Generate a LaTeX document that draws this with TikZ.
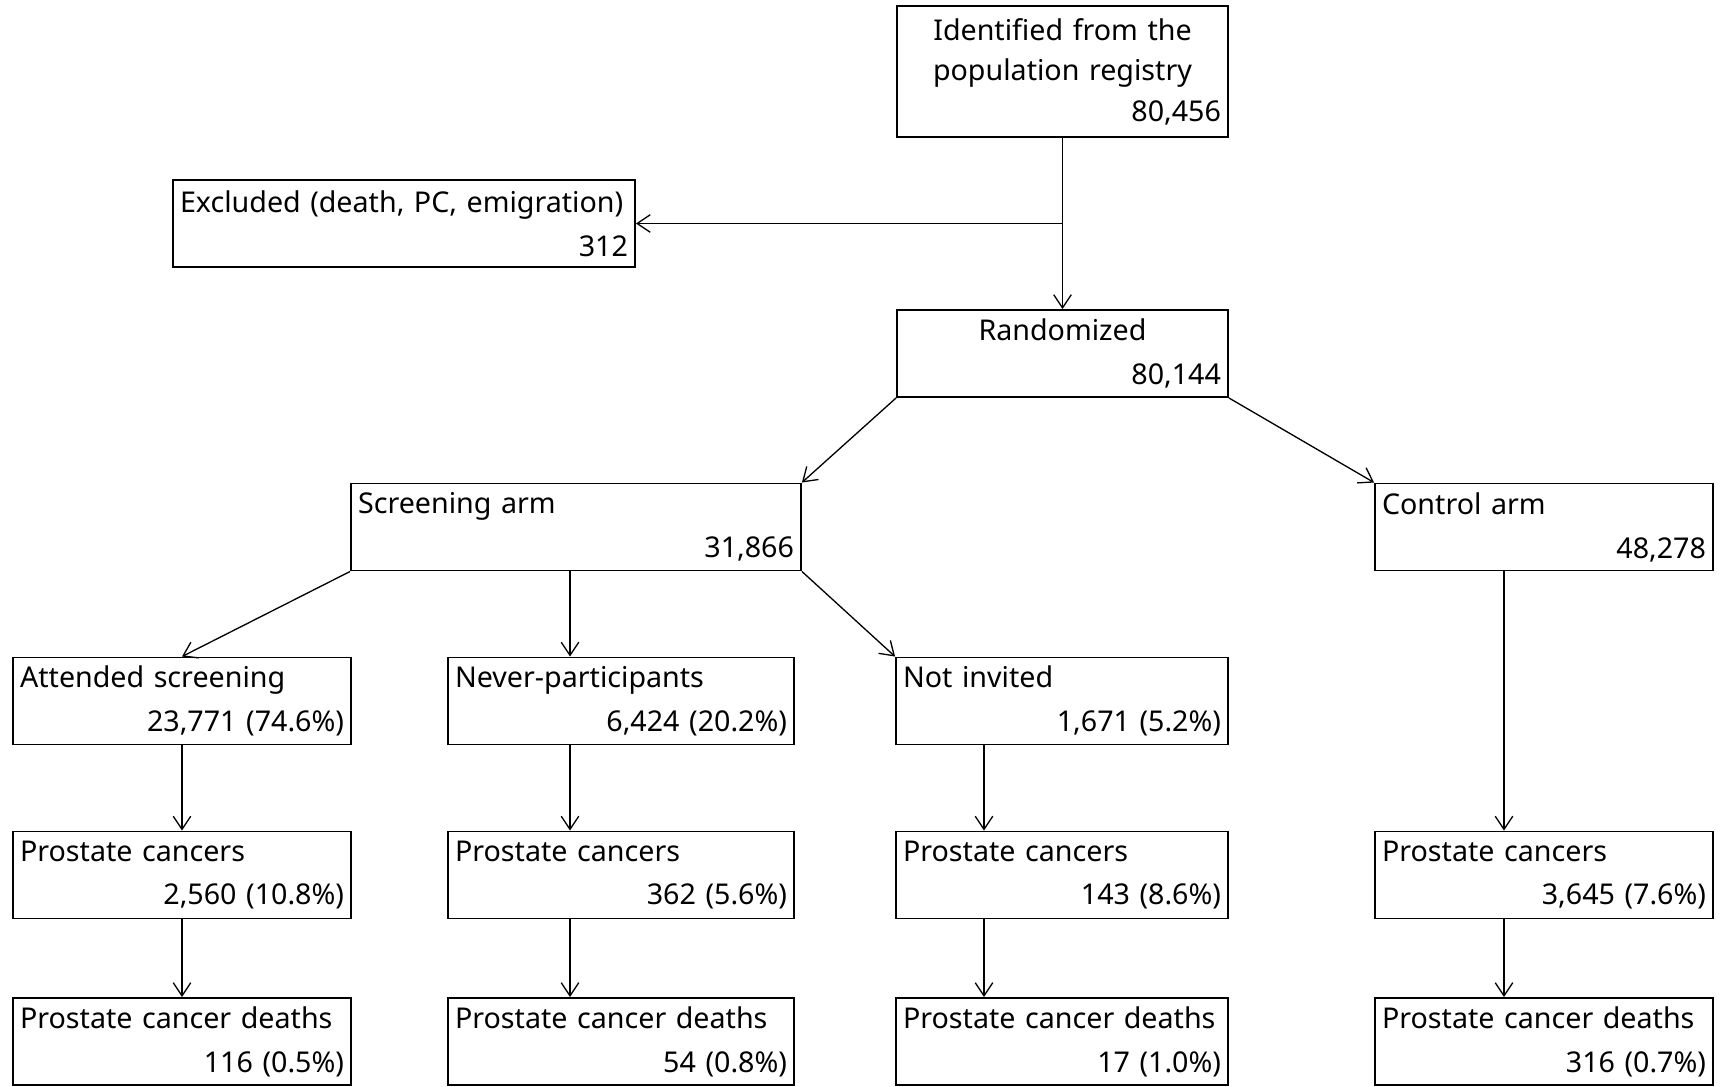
\documentclass[tikz,border=0pt]{standalone}
\usepackage{fontspec}
\setmainfont[WordSpace=1.5]{Noto Sans}
\usepackage{tikz}
\usetikzlibrary{arrows.meta}

\newcommand{\cnt}[1]{\\\leavevmode\hbox to\linewidth{\hfil #1}}
\newcommand{\ctr}[1]{\leavevmode\hbox to\linewidth{\hfil #1\hfil}}

\tikzset{
  flowbox/.style={draw, line width=1.1pt, rectangle, inner xsep=0.14cm, inner ysep=0pt,
    minimum height=1.74cm, text width=#1, align=left,
    font=\fontsize{16.3}{25}\selectfont},
  flowarrow/.style={->, line width=0.75pt}
}

\begin{document}
\begin{tikzpicture}[x=0.02cm, y=-0.02cm, >={Straight Barb[length=7.5pt,width=10pt]}]
            \useasboundingbox (0,0) rectangle (1721,1086);
            % Registry and randomization
            \node[flowbox=6.34cm, minimum height=2.62cm, font=\fontsize{16.3}{23}\selectfont] (reg) at (1062.5,71.5)
                {\ctr{Identified from the}\\\ctr{population registry}\cnt{80,456}};
            \node[flowbox=8.96cm] (excl) at (404,223.5) {Excluded (death, PC, emigration)\cnt{312}};
            \node[flowbox=6.34cm] (rand) at (1062.5,353.5) {\ctr{Randomized}\cnt{80,144}};
            % Arms
            \node[flowbox=8.72cm] (screen) at (576,527) {Screening arm\cnt{31,866}};
            \node[flowbox=6.48cm] (ctrl) at (1544,527) {Control arm\cnt{48,278}};
            % Screening arm groups
            \node[flowbox=6.48cm] (att) at (182,701) {Attended screening\cnt{23,771 (74.6\%)}};
            \node[flowbox=6.64cm] (never) at (621,701) {Never-participants\cnt{6,424 (20.2\%)}};
            \node[flowbox=6.36cm] (noinv) at (1062,701) {Not invited\cnt{1,671 (5.2\%)}};
            % Prostate cancers
            \node[flowbox=6.48cm] (pcA) at (182,875) {Prostate cancers\cnt{2,560 (10.8\%)}};
            \node[flowbox=6.64cm] (pcB) at (621,875) {Prostate cancers\cnt{362 (5.6\%)}};
            \node[flowbox=6.36cm] (pcC) at (1062,875) {Prostate cancers\cnt{143 (8.6\%)}};
            \node[flowbox=6.48cm] (pcD) at (1544,875) {Prostate cancers\cnt{3,645 (7.6\%)}};
            % Prostate cancer deaths
            \node[flowbox=6.48cm] (dA) at (182,1041.5) {Prostate cancer deaths\cnt{116 (0.5\%)}};
            \node[flowbox=6.64cm] (dB) at (621,1041.5) {Prostate cancer deaths\cnt{54 (0.8\%)}};
            \node[flowbox=6.36cm] (dC) at (1062,1041.5) {Prostate cancer deaths\cnt{17 (1.0\%)}};
            \node[flowbox=6.48cm] (dD) at (1544,1041.5) {Prostate cancer deaths\cnt{316 (0.7\%)}};
            % Columns of the vertical arrows
            \coordinate (colA) at (182,0);
            \coordinate (colB) at (570,0);
            \coordinate (colC) at (984,0);
            \coordinate (colD) at (1504,0);
            \coordinate (split) at (reg.south |- excl.east);
            % Arrows
            \draw[flowarrow] (reg) -- (rand);
            \draw[flowarrow] (split) -- (excl.east);
            \draw[flowarrow] (rand.south west) -- (screen.north east);
            \draw[flowarrow] (rand.south east) -- (ctrl.north west);
            \draw[flowarrow] (screen.south west) -- (att.north);
            \draw[flowarrow] (colB |- screen.south) -- (colB |- never.north);
            \draw[flowarrow] (screen.south east) -- (noinv.north west);
            \draw[flowarrow] (colD |- ctrl.south) -- (colD |- pcD.north);
            \draw[flowarrow] (colA |- att.south) -- (colA |- pcA.north);
            \draw[flowarrow] (colB |- never.south) -- (colB |- pcB.north);
            \draw[flowarrow] (colC |- noinv.south) -- (colC |- pcC.north);
            \draw[flowarrow] (colA |- pcA.south) -- (colA |- dA.north);
            \draw[flowarrow] (colB |- pcB.south) -- (colB |- dB.north);
            \draw[flowarrow] (colC |- pcC.south) -- (colC |- dC.north);
            \draw[flowarrow] (colD |- pcD.south) -- (colD |- dD.north);
        \end{tikzpicture}
\end{document}
